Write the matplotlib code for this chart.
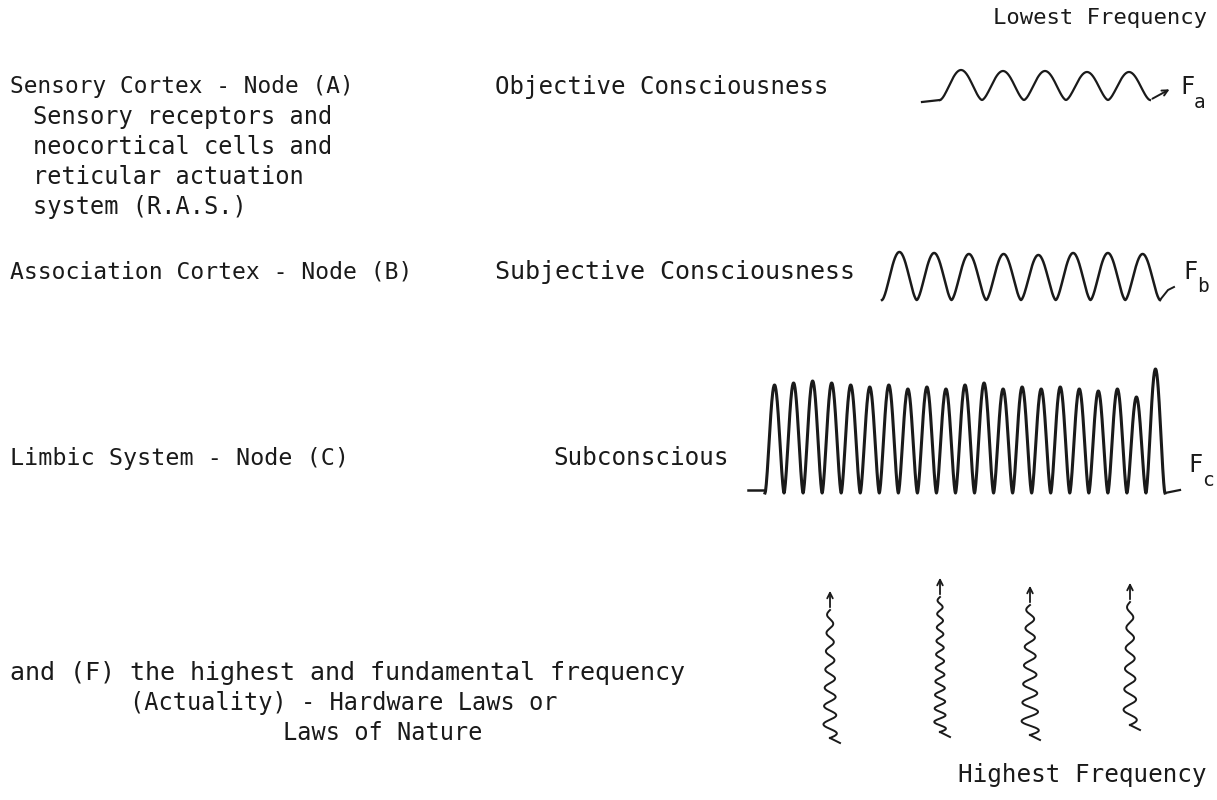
import numpy as np
import matplotlib.pyplot as plt

# Frequency diagram: brain nodes, states of consciousness and their traces

node_labels = ["Sensory Cortex - Node (A)", "Association Cortex - Node (B)", "Limbic System - Node (C)"]
node_notes = ["Sensory receptors and", "neocortical cells and", "reticular actuation", "system (R.A.S.)"]
states = ["Objective Consciousness", "Subjective Consciousness", "Subconscious"]
freq_subs = ["a", "b", "c"]
fund_lines = ["and (F) the highest and fundamental frequency", "(Actuality) - Hardware Laws or", "Laws of Nature"]

# hump heights (px) of each hand drawn trace
humps_a = [30, 29, 29, 28, 28]
humps_b = [48, 47, 46, 46, 45, 47, 47, 46]
humps_c = [108, 110, 112, 110, 108, 106, 108, 104, 106, 104, 108, 110, 104, 106,
           104, 106, 104, 102, 104, 96, 124]

# vertical squiggles (the fundamental frequency)
sq_cycles = [7, 10, 7, 6]
sq_amp = [7, 6, 9, 7]

ink = '#1a1a1a'
mono = 'DejaVu Sans Mono'

fig = plt.figure(figsize=(12.17, 8), dpi=100)
ax = fig.add_axes([0, 0, 1, 1])
ax.set_xlim(0, 1217)
ax.set_ylim(800, 0)
ax.axis('off')


def txt(x, y, s, size=17, **kw):
    ax.text(x, y, s, family=mono, fontsize=size, color=ink, va='center', **kw)


def hump_trace(x0, x1, base, heights, npts=60):
    # one raised cosine per hump, so every hump starts and ends on the base line
    n = len(heights)
    w = (x1 - x0) / n
    xs, ys = [], []
    for i, h in enumerate(heights):
        t = np.linspace(0, 1, npts)
        s = (0.5 - 0.5 * np.cos(2 * np.pi * t)) ** 0.8
        xs.append(x0 + w * (i + t))
        ys.append(base - h * s)
    return np.concatenate(xs), np.concatenate(ys)


# left column
txt(10, 87, node_labels[0], 16.4)
for i, s in enumerate(node_notes):
    txt(33, 117 + 30 * i, s)
txt(10, 272, node_labels[1], 16.6)
txt(10, 458, node_labels[2], 16.8)
txt(10, 673, fund_lines[0], 18)
txt(130, 703, fund_lines[1])
txt(283, 733, fund_lines[2])

# state names
state_x = [495, 495, 553]
row_y = [87, 272, 458]
for s, x, y, fs in zip(states, state_x, row_y, [17.3, 18, 17.5]):
    txt(x, y, s, fs)

txt(1207, 18, "Lowest Frequency", 16, ha='right')
txt(1207, 775, "Highest Frequency", 17.5, ha='right')

# trace A
x, y = hump_trace(940, 1150, 100, humps_a)
ax.plot([922, 940], [102, 100], color=ink, lw=1.6)
ax.plot(x, y, color=ink, lw=1.6)
ax.annotate('', xy=(1172, 88), xytext=(1150, 100),
            arrowprops=dict(arrowstyle='->', color=ink, lw=1.4))

# trace B
x, y = hump_trace(882, 1160, 300, humps_b)
ax.plot(x, y, color=ink, lw=1.8)
ax.plot([1160, 1168, 1174], [300, 290, 287], color=ink, lw=1.4)

# trace C
x, y = hump_trace(765, 1165, 493, humps_c)
ax.plot([748, 765], [490, 490], color=ink, lw=1.8)
ax.plot(x, y, color=ink, lw=2.2)
ax.plot([1165, 1180], [493, 490], color=ink, lw=1.6)

# F labels with subscripts
for (fx, fy), sub in zip([(1180, 87), (1183, 272), (1188, 465)], freq_subs):
    txt(fx, fy, "F")
    txt(fx + 14, fy + 15, sub, 14)

# vertical squiggles with arrow tips
sq_x = [830, 940, 1030, 1130]
sq_bot = [738, 732, 735, 725]
sq_top = [588, 575, 583, 580]
for xc, yb, yt, n, a in zip(sq_x, sq_bot, sq_top, sq_cycles, sq_amp):
    yy = np.linspace(yb, yt + 22, 300)
    frac = (yb - yy) / (yb - yt - 22)
    xx = xc + a * np.sin(2 * np.pi * n * frac) * (1 - 0.6 * frac)
    ax.plot(xx, yy, color=ink, lw=1.4)
    ax.plot([xc, xc + 10], [yb, yb + 5], color=ink, lw=1.4)
    ax.annotate('', xy=(xc, yt), xytext=(xx[-1], yy[-1]),
                arrowprops=dict(arrowstyle='->', color=ink, lw=1.3))

fig.savefig('out.png', dpi=100, facecolor='white')
